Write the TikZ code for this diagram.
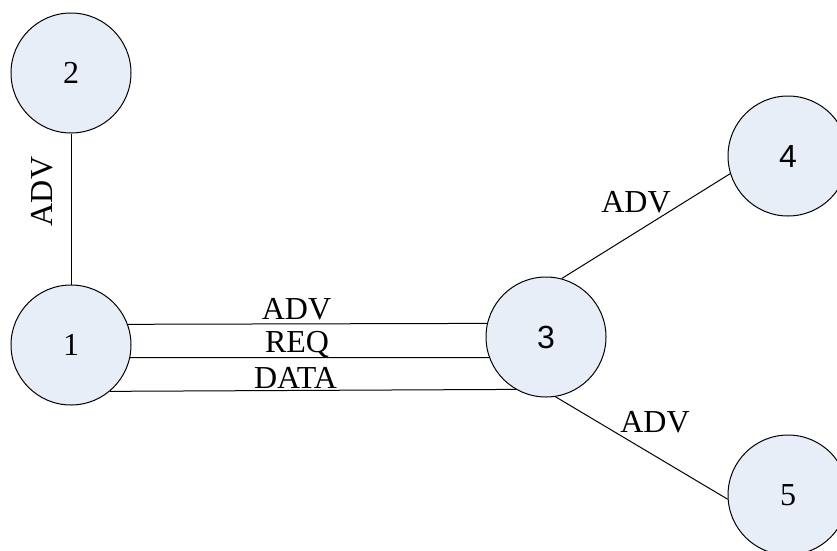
\documentclass[tikz,border=0pt]{standalone}
\usepackage{fontspec}
\setmainfont{Liberation Serif}
\newfontfamily\arialfont{Liberation Sans}
\definecolor{nodefill}{RGB}{232,238,248}
\begin{document}
\begin{tikzpicture}[x=0.75pt,y=-0.75pt,
  netnode/.style={circle,draw=black,line width=0.75pt,fill=nodefill,
    minimum size=120*0.75pt,inner sep=0pt,font=\fontsize{24}{28}\selectfont},
  link/.style={draw=black,line width=0.75pt},
  msg/.style={font=\fontsize{24}{28}\selectfont,inner sep=0pt,anchor=base}]
\useasboundingbox (0,0) rectangle (837,550);

% nodes
\node[netnode] (n2) at (71,73) {2};
\node[netnode] (n1) at (71,345) {1};
\node[netnode] (n3) at (546,337) {\arialfont 3};
\node[netnode] (n4) at (788,156) {\arialfont 4};
\node[netnode] (n5) at (788,495) {5};

% links
\draw[link] (n2.south) -- (n1.north);
\draw[link] (n1.20.5) -- (n3.167.5);
\draw[link] (n1.-12.5) -- (n3.200.5);
\draw[link] (n1.-50) -- (n3.240);
\draw[link] (n3.75) -- (n4.197);
\draw[link] (n3.-81) -- (n5.184);

% message labels
\node[msg,rotate=90] (l12) at (52,191.5) {ADV};
\node[msg] (l13a) at (296.5,319) {ADV};
\node[msg] (l13b) at (297,352) {REQ};
\node[msg] (l13c) at (295.5,388) {DATA};
\node[msg] (l34) at (636,212) {ADV};
\node[msg] (l35) at (655,432) {ADV};
\end{tikzpicture}
\end{document}
